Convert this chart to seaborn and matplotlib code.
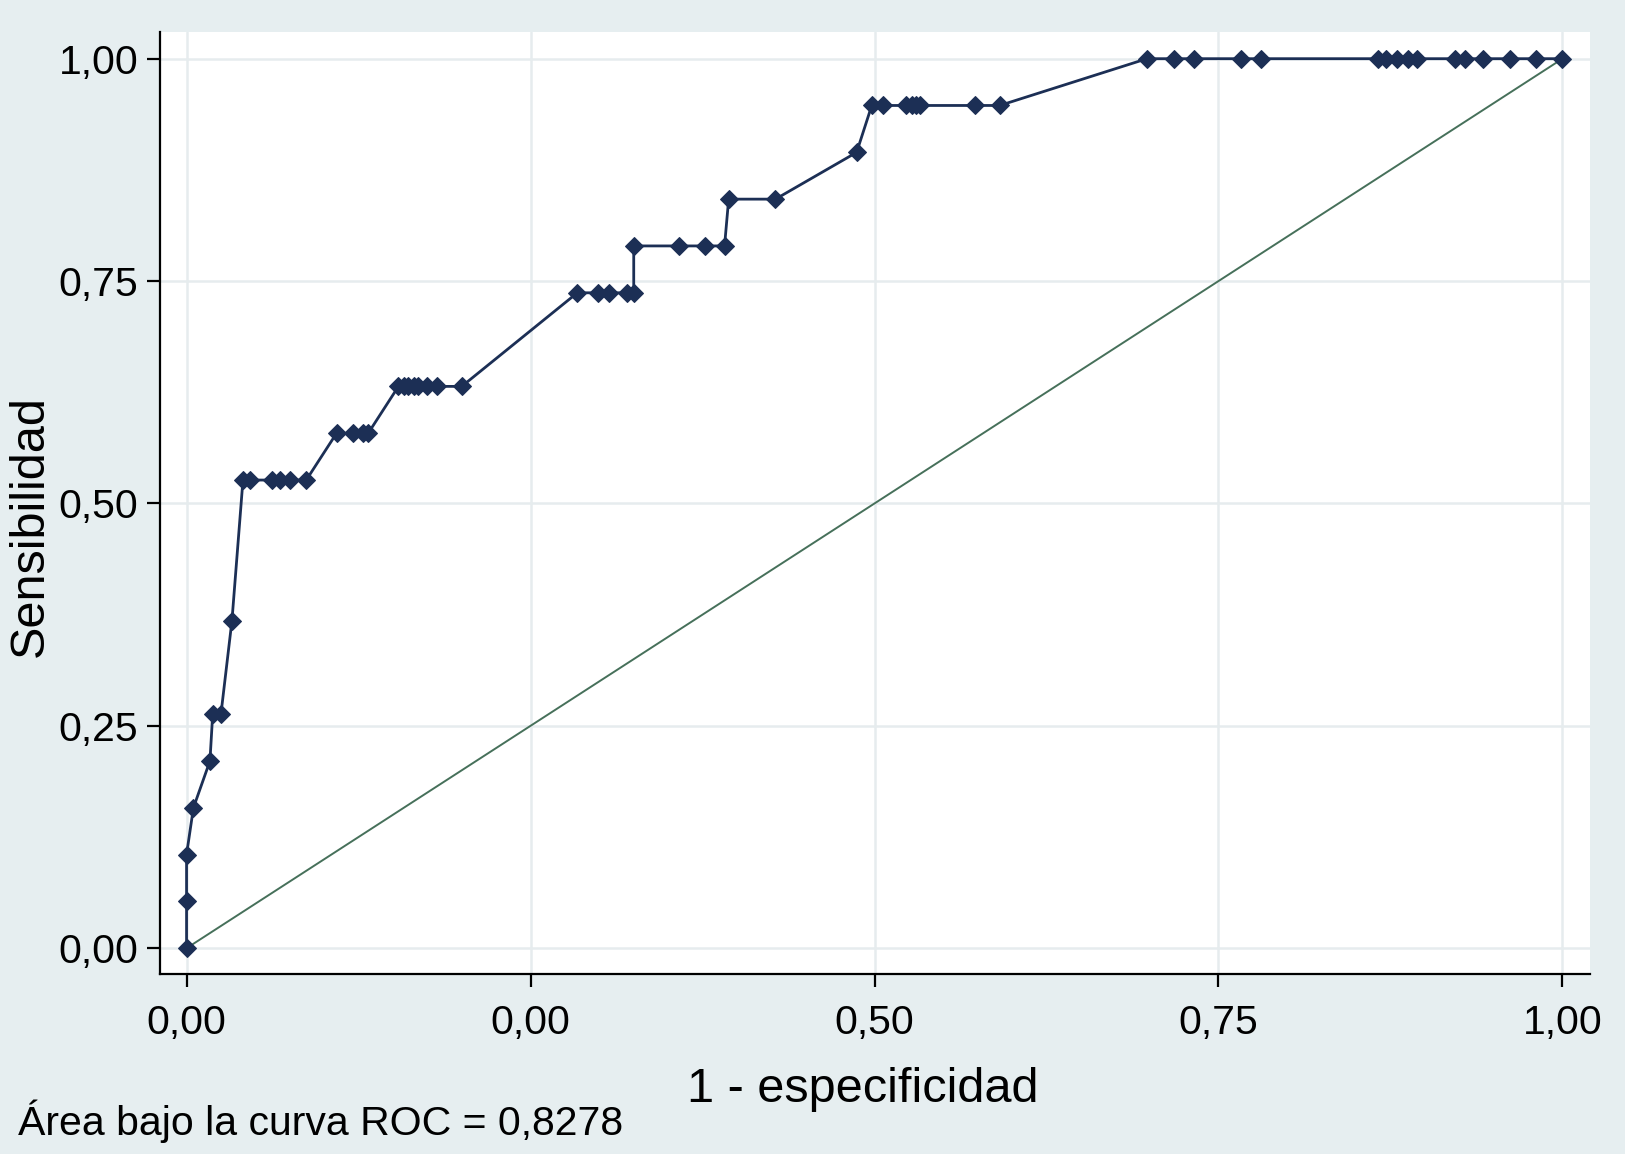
import matplotlib
matplotlib.use("Agg")
import matplotlib.pyplot as plt
import seaborn as sns
import pandas as pd

# ROC curve points (19 positives -> steps of 1/19)
fpr = [0.0, 0.0, 0.0, 0.005, 0.017, 0.019, 0.025, 0.033,
       0.041, 0.046, 0.062, 0.068, 0.075, 0.087,
       0.109, 0.121, 0.128, 0.132,
       0.154, 0.158, 0.161, 0.165, 0.168, 0.175, 0.182, 0.200,
       0.284, 0.299, 0.307, 0.320, 0.325,
       0.325, 0.358, 0.377, 0.391,
       0.394, 0.428,
       0.487,
       0.498, 0.506, 0.523, 0.527, 0.530, 0.533, 0.573, 0.591,
       0.698, 0.718, 0.732, 0.766, 0.781, 0.866, 0.872, 0.880, 0.888,
       0.894, 0.922, 0.929, 0.942, 0.962, 0.981, 1.0]
tpr = [0.0, 0.0526, 0.1053, 0.1579, 0.2105, 0.2632, 0.2632, 0.3684,
       0.5263, 0.5263, 0.5263, 0.5263, 0.5263, 0.5263,
       0.5789, 0.5789, 0.5789, 0.5789,
       0.6316, 0.6316, 0.6316, 0.6316, 0.6316, 0.6316, 0.6316, 0.6316,
       0.7368, 0.7368, 0.7368, 0.7368, 0.7368,
       0.7895, 0.7895, 0.7895, 0.7895,
       0.8421, 0.8421,
       0.8947,
       0.9474, 0.9474, 0.9474, 0.9474, 0.9474, 0.9474, 0.9474, 0.9474,
       1.0, 1.0, 1.0, 1.0, 1.0, 1.0, 1.0, 1.0, 1.0,
       1.0, 1.0, 1.0, 1.0, 1.0, 1.0, 1.0]

ref_x = [0.0, 1.0]
ref_y = [0.0, 1.0]

ticks = [0.0, 0.25, 0.5, 0.75, 1.0]
xtick_labels = ["0,00", "0,00", "0,50", "0,75", "1,00"]
ytick_labels = ["0,00", "0,25", "0,50", "0,75", "1,00"]

auc_text = "Área bajo la curva ROC = 0,8278"

BG = "#e6eef0"
NAVY = "#1c2f55"
DIAG = "#46705a"

sns.set_theme(style="whitegrid")
plt.rcParams["font.family"] = ["Liberation Sans", "DejaVu Sans"]

fig = plt.figure(figsize=(16.25, 11.54), dpi=100, facecolor=BG)
ax = fig.add_axes([160 / 1625, 1 - 974 / 1154, 1430 / 1625, 942 / 1154])
ax.set_facecolor("white")

roc = pd.DataFrame({"fpr": fpr, "tpr": tpr})
sns.lineplot(data=roc, x="fpr", y="tpr", sort=False, estimator=None,
             color=NAVY, linewidth=2.0, marker="D", markersize=9,
             markeredgecolor=NAVY, ax=ax, zorder=3)
sns.lineplot(x=ref_x, y=ref_y, color=DIAG, linewidth=1.4, ax=ax, zorder=2)

ax.set_xlim(-0.0193, 1.020)
ax.set_ylim(-0.029, 1.030)
ax.set_xticks(ticks)
ax.set_xticklabels(xtick_labels)
ax.set_yticks(ticks)
ax.set_yticklabels(ytick_labels)
ax.set_xlabel("")
ax.set_ylabel("")

ax.grid(True, color="#e6ecee", linewidth=1.8)
for side in ["top", "right"]:
    ax.spines[side].set_visible(False)
for side in ["left", "bottom"]:
    ax.spines[side].set_visible(True)
    ax.spines[side].set_color("black")
    ax.spines[side].set_linewidth(1.6)

ax.tick_params(axis="both", direction="out", length=9.5, width=1.6,
               color="black", labelsize=29.5, labelcolor="black",
               left=True, bottom=True)
ax.tick_params(axis="x", pad=12)
ax.tick_params(axis="y", pad=6)

fig.text(863 / 1625, 1 - 1090 / 1154, "1 - especificidad", fontsize=35,
         ha="center", va="center", color="black")
fig.text(30 / 1625, 1 - 526 / 1154, "Sensibilidad", fontsize=35,
         rotation=90, ha="center", va="center", color="black")
fig.text(18 / 1625, 1 - 1121 / 1154, auc_text, fontsize=29.5,
         ha="left", va="center", color="black")

fig.savefig("out.png", dpi=100, facecolor=BG)
